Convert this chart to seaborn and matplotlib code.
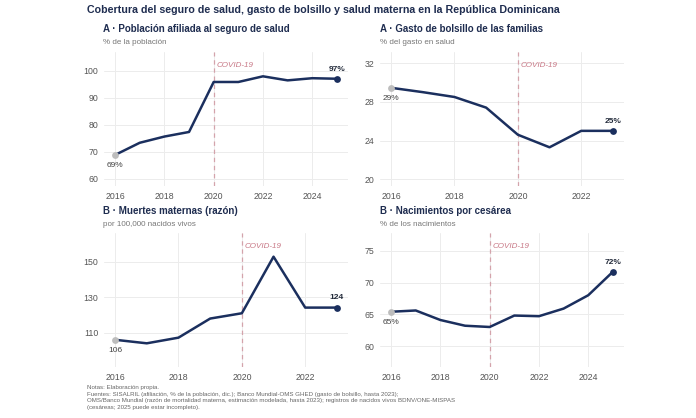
import matplotlib
matplotlib.use("Agg")
import matplotlib.pyplot as plt
import seaborn as sns
import pandas as pd

# Data
years_afil = [2016, 2017, 2018, 2019, 2020, 2021, 2022, 2023, 2024, 2025]
afiliacion = [68.9, 73.4, 75.7, 77.4, 95.9, 95.9, 98.0, 96.5, 97.3, 97.1]

years_gasto = [2016, 2017, 2018, 2019, 2020, 2021, 2022, 2023]
gasto_bolsillo = [29.45, 29.0, 28.5, 27.4, 24.6, 23.3, 25.0, 25.0]

years_mort = [2016, 2017, 2018, 2019, 2020, 2021, 2022, 2023]
mort_materna = [106.0, 104.0, 107.2, 118.0, 121.0, 153.0, 124.2, 124.2]

years_ces = [2016, 2017, 2018, 2019, 2020, 2021, 2022, 2023, 2024, 2025]
cesareas = [65.4, 65.6, 64.1, 63.2, 63.0, 64.8, 64.7, 65.9, 68.0, 71.7]

NAVY = "#1b2f5e"
GREY_PT = "#bdbdbd"
COVID = "#d4a3ab"

W, H = 696, 418

sns.set_theme(style="whitegrid")
plt.rcParams["font.family"] = ["Liberation Sans", "DejaVu Sans"]

fig = plt.figure(figsize=(W / 100, H / 100), dpi=100)
fig.patch.set_facecolor("white")


def px_axes(left, top, right, bottom):
    return fig.add_axes([left / W, 1 - bottom / H, (right - left) / W, (bottom - top) / H])


def draw_panel(ax, years, values, xlim, ylim, yticks, xticks, fmt):
    df = pd.DataFrame({"year": years, "value": values})
    ax.set_facecolor("white")
    ax.axvline(2020, color=COVID, lw=0.9, ls=(0, (3.5, 3)), zorder=1)
    ax.text(2020.1, ylim[1] - (ylim[1] - ylim[0]) * 0.1, "COVID-19", color="#c87886",
            fontsize=5.8, style="italic", va="center", ha="left")
    sns.lineplot(data=df, x="year", y="value", ax=ax, color=NAVY, lw=1.8, zorder=3)
    ax.scatter([years[0]], [values[0]], s=24, color=GREY_PT, zorder=4, linewidths=0)
    ax.scatter([years[-1]], [values[-1]], s=24, color=NAVY, zorder=4, linewidths=0)
    ax.annotate(fmt(values[0]), (years[0], values[0]), xytext=(0, -7.5), textcoords="offset points",
                ha="center", va="center", fontsize=6, color="#444444")
    ax.annotate(fmt(values[-1]), (years[-1], values[-1]), xytext=(0, 7), textcoords="offset points",
                ha="center", va="center", fontsize=6, color="#222a3a", fontweight="bold")
    ax.set_xlim(*xlim)
    ax.set_ylim(*ylim)
    ax.set_xticks(xticks)
    ax.set_yticks(yticks)
    ax.set_xlabel("")
    ax.set_ylabel("")
    ax.grid(True, color="#ececec", lw=0.7)
    for s in ax.spines.values():
        s.set_visible(False)
    ax.tick_params(axis="both", length=0, labelsize=6.3, labelcolor="#555555", pad=4)


pct = lambda v: f"{round(v):.0f}%"
num = lambda v: f"{round(v):.0f}"

ax1 = px_axes(104, 52, 348, 186)
draw_panel(ax1, years_afil, afiliacion, (2015.55, 2025.45), (57.4, 107.0),
           [60, 70, 80, 90, 100], [2016, 2018, 2020, 2022, 2024], pct)

ax2 = px_axes(380, 52, 624, 186)
draw_panel(ax2, years_gasto, gasto_bolsillo, (2015.65, 2023.35), (19.3, 33.15),
           [20, 24, 28, 32], [2016, 2018, 2020, 2022], pct)

ax3 = px_axes(104, 233, 348, 367)
draw_panel(ax3, years_mort, mort_materna, (2015.65, 2023.35), (90.6, 166.4),
           [110, 130, 150], [2016, 2018, 2020, 2022], num)

ax4 = px_axes(380, 233, 624, 367)
draw_panel(ax4, years_ces, cesareas, (2015.55, 2025.45), (56.7, 77.8),
           [60, 65, 70, 75], [2016, 2018, 2020, 2022, 2024], pct)

TITLE_C = "#1f2d50"
fig.text(87 / W, 1 - 10 / H,
         "Cobertura del seguro de salud, gasto de bolsillo y salud materna en la República Dominicana",
         fontsize=7.7, fontweight="bold", color=TITLE_C, va="center", ha="left")

panel_titles = [
    (103, 29, 42, "A · Población afiliada al seguro de salud", "% de la población"),
    (380, 29, 42, "A · Gasto de bolsillo de las familias", "% del gasto en salud"),
    (103, 211, 224, "B · Muertes maternas (razón)", "por 100,000 nacidos vivos"),
    (380, 211, 224, "B · Nacimientos por cesárea", "% de los nacimientos"),
]
for x, yt, ys, t, sub in panel_titles:
    fig.text(x / W, 1 - yt / H, t, fontsize=7.05, fontweight="bold", color=TITLE_C,
             va="center", ha="left")
    fig.text(x / W, 1 - ys / H, sub, fontsize=5.8, color="#777777", va="center", ha="left")

footer = ("Notas: Elaboración propia.\n"
          "Fuentes: SISALRIL (afiliación, % de la población, dic.); Banco Mundial-OMS GHED (gasto de bolsillo, hasta 2023);\n"
          "OMS/Banco Mundial (razón de mortalidad materna, estimación modelada, hasta 2023); registros de nacidos vivos BDNV/ONE-MISPAS\n"
          "(cesáreas; 2025 puede estar incompleto).")
fig.text(87 / W, 1 - 385 / H, footer, fontsize=4.45, color="#666666", va="top", ha="left",
         linespacing=1.4)

fig.savefig("out.png", dpi=100, facecolor="white")
